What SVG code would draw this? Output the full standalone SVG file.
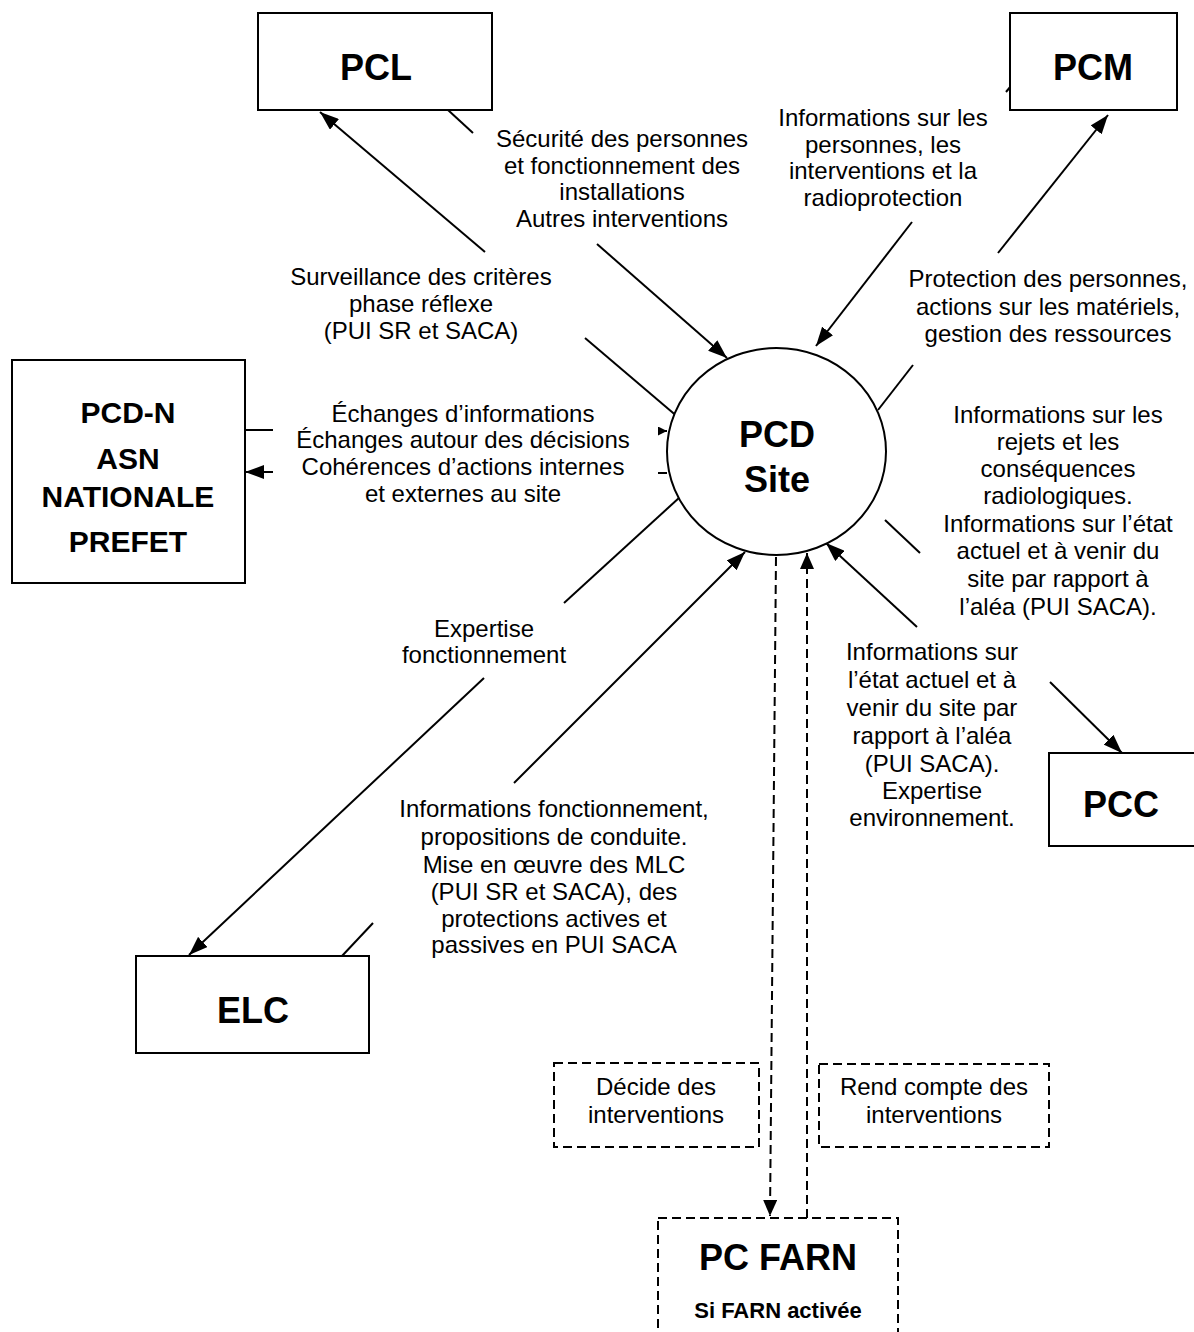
<svg xmlns="http://www.w3.org/2000/svg" width="1194" height="1332" viewBox="0 0 1194 1332">
<defs>
<style>
.box{fill:#fff;stroke:#000;stroke-width:2}
.dbox{fill:none;stroke:#000;stroke-width:2;stroke-dasharray:9 5}
.ln{stroke:#000;stroke-width:2;fill:none}
.dl{stroke:#000;stroke-width:2;fill:none;stroke-dasharray:9 5}
.t{font-family:"Liberation Sans",Arial,sans-serif;font-size:24px;text-anchor:middle;fill:#000}
.b{font-family:"Liberation Sans",Arial,sans-serif;font-weight:bold;font-size:36px;text-anchor:middle;fill:#000}
.b30{font-family:"Liberation Sans",Arial,sans-serif;font-weight:bold;font-size:30px;text-anchor:middle;fill:#000}
.b22{font-family:"Liberation Sans",Arial,sans-serif;font-weight:bold;font-size:22px;text-anchor:middle;fill:#000}
</style>
<marker id="ah" markerUnits="userSpaceOnUse" markerWidth="20" markerHeight="14" refX="19" refY="7" orient="auto"><path d="M0,0 L19,7 L0,14 z" fill="#000"/></marker>
<marker id="ahs" markerUnits="userSpaceOnUse" markerWidth="10" markerHeight="9" refX="9" refY="4.5" orient="auto"><path d="M0,0 L9,4.5 L0,9 z" fill="#000"/></marker>
<marker id="ahd" markerUnits="userSpaceOnUse" markerWidth="16" markerHeight="14" refX="16" refY="7" orient="auto"><path d="M0,0 L16,7 L0,14 z" fill="#000"/></marker>
</defs>
<rect width="1194" height="1332" fill="#fff"/>

<g id="connectors">
<line class="ln" x1="485" y1="252" x2="320" y2="112" marker-end="url(#ah)"/>
<line class="ln" x1="585" y1="338" x2="679" y2="418"/>
<line class="ln" x1="448" y1="110" x2="473" y2="133"/>
<line class="ln" x1="597" y1="244" x2="727" y2="358" marker-end="url(#ah)"/>
<line class="ln" x1="912" y1="222" x2="816" y2="346" marker-end="url(#ah)"/>
<line class="ln" x1="998" y1="253" x2="1108" y2="115" marker-end="url(#ah)"/>
<line class="ln" x1="878" y1="410" x2="913" y2="365"/>
<line class="ln" x1="1006" y1="92" x2="1011" y2="86"/>
<line class="ln" x1="245" y1="430" x2="273" y2="430"/>
<line class="ln" x1="660" y1="431" x2="667" y2="431" marker-end="url(#ahs)"/>
<line class="ln" x1="273" y1="472" x2="245" y2="472" marker-end="url(#ah)"/>
<line class="ln" x1="658" y1="473" x2="667" y2="473"/>
<line class="ln" x1="680" y1="497" x2="564" y2="603"/>
<line class="ln" x1="484" y1="678" x2="189" y2="955" marker-end="url(#ah)"/>
<line class="ln" x1="514" y1="783" x2="745" y2="552" marker-end="url(#ah)"/>
<line class="ln" x1="342" y1="956" x2="373" y2="923"/>
<line class="ln" x1="885" y1="520" x2="920" y2="553"/>
<line class="ln" x1="917" y1="627" x2="826" y2="543" marker-end="url(#ah)"/>
<line class="ln" x1="1050" y1="682" x2="1122" y2="753" marker-end="url(#ah)"/>
<line class="dl" x1="776" y1="557" x2="770" y2="1216" marker-end="url(#ahd)"/>
<line class="dl" x1="807" y1="1218" x2="807" y2="553" marker-end="url(#ahd)"/>
</g>

<g id="PCL">
<rect class="box" x="258" y="13" width="234" height="97"/>
<text class="b" x="376" y="80">PCL</text>
</g>
<g id="PCM">
<rect class="box" x="1010" y="13" width="167" height="97"/>
<text class="b" x="1093" y="80">PCM</text>
</g>
<g id="PCDN">
<rect class="box" x="12" y="360" width="233" height="223"/>
<text class="b30" x="128" y="423">PCD-N</text>
<text class="b30" x="128" y="469">ASN</text>
<text class="b30" x="128" y="507">NATIONALE</text>
<text class="b30" x="128" y="552">PREFET</text>
</g>
<g id="PCDSite">
<ellipse cx="776.5" cy="451.5" rx="109.5" ry="103.5" fill="#fff" stroke="#000" stroke-width="2"/>
<text class="b" x="777" y="447">PCD</text>
<text class="b" x="777" y="492">Site</text>
</g>
<g id="ELC">
<rect class="box" x="136" y="956" width="233" height="97"/>
<text class="b" x="253" y="1023">ELC</text>
</g>
<g id="PCC">
<rect class="box" x="1049" y="753" width="160" height="93"/>
<text class="b" x="1121" y="817">PCC</text>
</g>
<g id="PCFARN">
<rect class="dbox" x="658" y="1218" width="240" height="130"/>
<text class="b" x="778" y="1270">PC FARN</text>
<text class="b22" x="778" y="1318">Si FARN activée</text>
</g>
<g id="decide">
<rect class="dbox" x="554" y="1063" width="205" height="84"/>
<text class="t" x="656" y="1095">Décide des</text>
<text class="t" x="656" y="1123">interventions</text>
</g>
<g id="rend">
<rect class="dbox" x="819" y="1064" width="230" height="83"/>
<text class="t" x="934" y="1095">Rend compte des</text>
<text class="t" x="934" y="1123">interventions</text>
</g>

<g id="labels">
<text class="t" x="622" y="147">Sécurité des personnes</text>
<text class="t" x="622" y="174">et fonctionnement des</text>
<text class="t" x="622" y="200">installations</text>
<text class="t" x="622" y="227">Autres interventions</text>

<text class="t" x="883" y="126">Informations sur les</text>
<text class="t" x="883" y="153">personnes, les</text>
<text class="t" x="883" y="179">interventions et la</text>
<text class="t" x="883" y="206">radioprotection</text>

<text class="t" x="421" y="285">Surveillance des critères</text>
<text class="t" x="421" y="312">phase réflexe</text>
<text class="t" x="421" y="339">(PUI SR et SACA)</text>

<text class="t" x="1048" y="287">Protection des personnes,</text>
<text class="t" x="1048" y="315">actions sur les matériels,</text>
<text class="t" x="1048" y="342">gestion des ressources</text>

<text class="t" x="463" y="422">Échanges d’informations</text>
<text class="t" x="463" y="448">Échanges autour des décisions</text>
<text class="t" x="463" y="475">Cohérences d’actions internes</text>
<text class="t" x="463" y="502">et externes au site</text>

<text class="t" x="1058" y="423">Informations sur les</text>
<text class="t" x="1058" y="450">rejets et les</text>
<text class="t" x="1058" y="477">conséquences</text>
<text class="t" x="1058" y="504">radiologiques.</text>
<text class="t" x="1058" y="532">Informations sur l’état</text>
<text class="t" x="1058" y="559">actuel et à venir du</text>
<text class="t" x="1058" y="587">site par rapport à</text>
<text class="t" x="1058" y="615">l’aléa (PUI SACA).</text>

<text class="t" x="484" y="637">Expertise</text>
<text class="t" x="484" y="663">fonctionnement</text>

<text class="t" x="932" y="660">Informations sur</text>
<text class="t" x="932" y="688">l’état actuel et à</text>
<text class="t" x="932" y="716">venir du site par</text>
<text class="t" x="932" y="744">rapport à l’aléa</text>
<text class="t" x="932" y="772">(PUI SACA).</text>
<text class="t" x="932" y="799">Expertise</text>
<text class="t" x="932" y="826">environnement.</text>

<text class="t" x="554" y="817">Informations fonctionnement,</text>
<text class="t" x="554" y="845">propositions de conduite.</text>
<text class="t" x="554" y="873">Mise en œuvre des MLC</text>
<text class="t" x="554" y="900">(PUI SR et SACA), des</text>
<text class="t" x="554" y="927">protections actives et</text>
<text class="t" x="554" y="953">passives en PUI SACA</text>
</g>
</svg>
